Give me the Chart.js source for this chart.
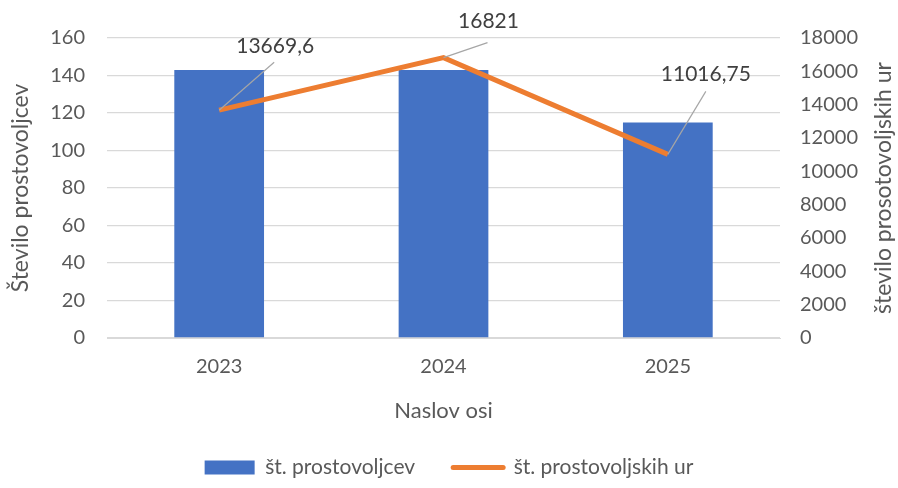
<!DOCTYPE html>
<html>
<head>
<meta charset="utf-8">
<script src="https://cdn.jsdelivr.net/npm/chart.js@4"></script>
<style>
  html, body { margin: 0; padding: 0; background: #fff; }
  #wrap { width: 898px; height: 488px; }
</style>
</head>
<body>
<div id="wrap"><canvas id="myChart" width="898" height="488"></canvas></div>
<script>
// podatki
const leta = ["2023", "2024", "2025"];
const prostovoljci = [143, 143, 115];
const ure = [13669.6, 16821, 11016.75];
const ureNapisi = ["13669,6", "16821", "11016,75"];
const leviTicki = [0, 20, 40, 60, 80, 100, 120, 140, 160];
const desniTicki = [0, 2000, 4000, 6000, 8000, 10000, 12000, 14000, 16000, 18000];
const desniNaslov = "število prosotovoljskih ur";

// odmiki napisov (samo slog)
const odmiki = [
  { lx: 55, ly: -48, tx: 56, ty: -64 },
  { lx: 44, ly: -15, tx: 45, ty: -36 },
  { lx: 38, ly: -63, tx: 38, ty: -80 }
];

const siva = "#595959";
const pisava = "Lato, 'Open Sans', sans-serif";

const napisiPlugin = {
  id: "napisi",
  afterDatasetsDraw(chart) {
    const ctx = chart.ctx;
    const meta = chart.getDatasetMeta(1);
    ctx.save();
    meta.data.forEach((pt, i) => {
      const o = odmiki[i];
      ctx.strokeStyle = "#A6A6A6";
      ctx.lineWidth = 1.2;
      ctx.beginPath();
      ctx.moveTo(pt.x, pt.y);
      ctx.lineTo(pt.x + o.lx, pt.y + o.ly);
      ctx.stroke();
      ctx.fillStyle = "#404040";
      ctx.font = "21px " + pisava;
      ctx.textAlign = "center";
      ctx.textBaseline = "middle";
      ctx.fillText(ureNapisi[i], pt.x + o.tx, pt.y + o.ty);
    });
    // naslov desne osi (bere se od spodaj navzgor)
    const a = chart.chartArea;
    ctx.translate(884, (a.top + a.bottom) / 2);
    ctx.rotate(-Math.PI / 2);
    ctx.fillStyle = siva;
    ctx.font = "23px " + pisava;
    ctx.fillText(desniNaslov, 0, 0);
    ctx.restore();
  }
};

const ctx = document.getElementById("myChart");
new Chart(ctx, {
  data: {
    labels: leta,
    datasets: [
      {
        type: "bar",
        label: "št. prostovoljcev",
        data: prostovoljci,
        backgroundColor: "#4472C4",
        yAxisID: "y",
        categoryPercentage: 1,
        barPercentage: 0.4,
        order: 2
      },
      {
        type: "line",
        label: "št. prostovoljskih ur",
        data: ure,
        borderColor: "#ED7D31",
        backgroundColor: "#ED7D31",
        borderWidth: 5,
        pointRadius: 0,
        tension: 0,
        yAxisID: "y1",
        order: 1
      }
    ]
  },
  options: {
    responsive: false,
    animation: false,
    layout: { padding: { top: 38, left: 0, right: 0, bottom: 0 } },
    plugins: {
      tooltip: { enabled: false },
      legend: {
        position: "bottom",
        labels: {
          color: siva,
          font: { family: pisava, size: 21 },
          usePointStyle: true,
          pointStyleWidth: 50,
          boxHeight: 14,
          padding: 38,
          generateLabels(chart) {
            return chart.data.datasets.map((ds, i) => ({
              text: ds.label,
              fillStyle: ds.backgroundColor,
              strokeStyle: ds.type === "line" ? ds.borderColor : ds.backgroundColor,
              lineWidth: ds.type === "line" ? 5 : 0,
              lineCap: "round",
              pointStyle: ds.type === "line" ? "line" : "rect",
              fontColor: siva,
              datasetIndex: i
            }));
          }
        }
      }
    },
    scales: {
      x: {
        grid: { display: false },
        border: { color: "#D9D9D9", width: 1 },
        ticks: { color: siva, font: { family: pisava, size: 20 }, padding: 9 },
        title: {
          display: true,
          text: "Naslov osi",
          color: siva,
          font: { family: pisava, size: 22 },
          padding: { top: 8, bottom: -5 }
        },
        afterFit(s) { s.height = 81; }
      },
      y: {
        position: "left",
        min: 0,
        max: 160,
        afterBuildTicks(s) { s.ticks = leviTicki.map(v => ({ value: v })); },
        grid: { color: "#D9D9D9", lineWidth: 1.3, drawTicks: false },
        border: { display: false },
        ticks: { color: siva, font: { family: pisava, size: 20 }, padding: 22 },
        title: {
          display: true,
          text: "Število prostovoljcev",
          color: siva,
          font: { family: pisava, size: 23 },
          padding: { top: 7, bottom: 2 }
        },
        afterFit(s) { s.width = 107; }
      },
      y1: {
        position: "right",
        min: 0,
        max: 18000,
        afterBuildTicks(s) { s.ticks = desniTicki.map(v => ({ value: v })); },
        grid: { display: false, drawTicks: false },
        border: { display: false },
        ticks: {
          color: siva,
          font: { family: pisava, size: 20 },
          padding: 20,
          callback: (v) => String(v)
        },
        afterFit(s) { s.width = 118; }
      }
    }
  },
  plugins: [napisiPlugin]
});
</script>
</body>
</html>
